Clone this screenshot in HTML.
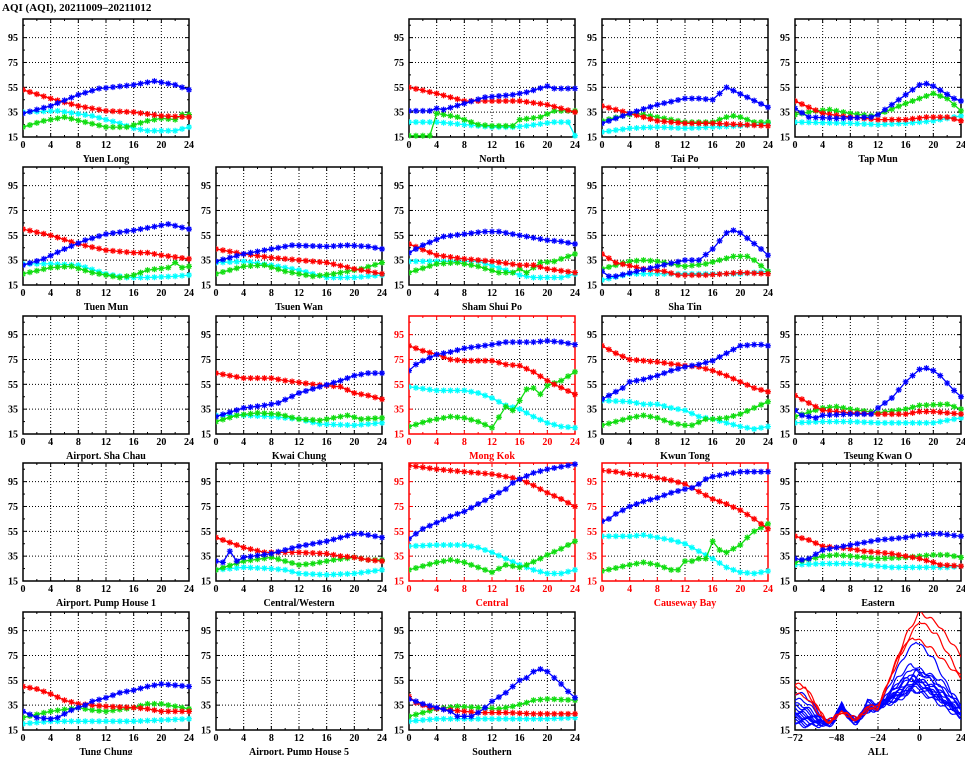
<!DOCTYPE html>
<html><head><meta charset="utf-8">
<style>
html,body{margin:0;padding:0;background:#fff;}
svg text{font-family:"Liberation Serif",serif;font-weight:bold;font-size:10px;}
</style></head>
<body>
<svg id="s" width="965" height="755" xmlns="http://www.w3.org/2000/svg">
<text x="2" y="11" style="font-size:11px">AQI (AQI), 20211009–20211012</text>
</svg>
<script>
const S=document.getElementById('s');
const NS='http://www.w3.org/2000/svg';
let out='';
const colX=[23,216,409,602,795], rowY=[19,167,316,463,612], W=166, H=118;
const C={b:'#0000ff',r:'#ff0000',g:'#11dd11',c:'#00ffff'};
function interp(k,x){for(let i=0;i<k.length-1;i++){const a=k[i],b=k[i+1];if(x>=a[0]&&x<=b[0])return a[1]+(b[1]-a[1])*(x-a[0])/(b[0]-a[0]);}return k[k.length-1][1];}
function parse(s){return s.split(',').map(p=>p.split(':').map(Number));}
function frame(x0,y0,red,xmin,xmax,xmaj,xmin2,title){
  const col=red?'#ff0000':'#000';
  const X=v=>x0+(v-xmin)/(xmax-xmin)*W, Y=v=>y0+(110-v)/95*H;
  // grid
  for(let v=xmin+xmaj;v<xmax;v+=xmaj) out+=`<line x1="${X(v)}" y1="${y0}" x2="${X(v)}" y2="${y0+H}" stroke="#000" stroke-width="1" stroke-dasharray="1,2"/>`;
  for(let v=35;v<=95;v+=20) out+=`<line x1="${x0}" y1="${Y(v)}" x2="${x0+W}" y2="${Y(v)}" stroke="#000" stroke-width="1" stroke-dasharray="1,2"/>`;
  // ticks
  for(let v=xmin;v<=xmax;v+=xmin2){const L=((v-xmin)%xmaj===0)?4:2;out+=`<line x1="${X(v)}" y1="${y0+H}" x2="${X(v)}" y2="${y0+H-L}" stroke="${col}"/><line x1="${X(v)}" y1="${y0}" x2="${X(v)}" y2="${y0+L}" stroke="${col}"/>`;}
  for(let v=15;v<=105;v+=10){const L=((v-15)%20===0)?4:2;out+=`<line x1="${x0}" y1="${Y(v)}" x2="${x0+L}" y2="${Y(v)}" stroke="${col}"/><line x1="${x0+W}" y1="${Y(v)}" x2="${x0+W-L}" y2="${Y(v)}" stroke="${col}"/>`;}
  out+=`<rect x="${x0}" y="${y0}" width="${W}" height="${H}" fill="none" stroke="${col}" stroke-width="1.5"/>`;
  for(let v=xmin;v<=xmax;v+=xmaj) out+=`<text x="${X(v)}" y="${y0+H+11}" text-anchor="middle" fill="${col}">${v<0?'−'+(-v):v}</text>`;
  for(let v=15;v<=95;v+=20) out+=`<text x="${x0-5}" y="${Y(v)+3.5}" text-anchor="end" fill="${col}">${v}</text>`;
  out+=`<text x="${x0+W/2}" y="${y0+H+25}" text-anchor="middle" fill="${col}">${title}</text>`;
  return [X,Y];
}
function panel(r,c,title,red,data){
  const x0=colX[c],y0=rowY[r];
  const [X,Y]=frame(x0,y0,red,0,24,4,2,title);
  if(!data)return;
  out+=`<svg x="${x0}" y="${y0-4}" width="${W+4}" height="${H+8}" overflow="hidden"><g transform="translate(${-x0},${-(y0-4)})">`;
  for(const k of ['c','g','r','b']){
    if(!data[k])continue;
    const kn=parse(data[k]);let pts=[],m='';
    for(let h=0;h<=24;h++){const px=X(h),py=Y(interp(kn,h));pts.push(px.toFixed(1)+','+py.toFixed(1));
      m+=`M${px-3},${py}h6M${px},${py-3}v6M${px-2.2},${py-2.2}l4.4,4.4M${px-2.2},${py+2.2}l4.4,-4.4`;}
    out+=`<polyline points="${pts.join(' ')}" fill="none" stroke="${C[k]}" stroke-width="1.3"/><path d="${m}" stroke="${C[k]}" stroke-width="1.2" fill="none"/>`;
  }
  out+='</g></svg>';
}
panel(0,0,'Yuen Long',0,{b:'0:34,4:40,8:49,11:54,16:57,19:60,22:57,24:53',r:'0:53,4:46,8:40,12:36,16:35,20:32,24:31',c:'0:35,5:36,10:32,14:26,16:22,18:20,22:20,24:23',g:'0:23,3:28,6:31,9:27,12:23,15:23,18:28,20:30,22:29,23:33,24:33'});
panel(0,2,'North',0,{b:'0:36,3:36,4:38,5:37,8:42,11:47,15:49,17:51,20:56,21:54,24:54',r:'0:55,4:50,8:44,12:44,16:44,20:41,24:35',g:'0:16,3:16,4:34,7:31,10:25,12:24,15:24,16:29,19:31,21:36,24:36',c:'0:27,4:27,8:25,12:23,15:23,17:24,21:27,23:27,24:16'});
panel(0,3,'Tai Po',0,{b:'0:26,4:34,8:41,12:46,14:46,16:45,18:55,21:47,24:39',r:'0:40,4:34,8:28,12:26,16:26,20:25,24:24',g:'0:28,3:32,5:34,8:31,12:27,16:27,18:31,19:32,20:31,22:27,24:27',c:'0:19,4:22,8:23,12:22,16:23,20:24,24:26'});
panel(0,4,'Tap Mun',0,{b:'0:38,2:31,6:30,11:31,12:33,16:49,18:57,19:58,20:56,23:46,24:44',r:'0:44,4:34,8:31,12:29,16:29,19:31,22:31,24:28',g:'0:33,3:36,5:37,8:34,11:32,12:33,16:42,20:50,22:46,24:36',c:'0:27,8:26,12:25,16:26,20:28,24:32'});
panel(1,0,'Tuen Mun',0,{b:'0:31,3:36,6:44,9:51,12:56,16:59,19:62,21:64,24:60',r:'0:60,4:55,8:48,12:43,16:41,18:41,20:39,24:36',c:'0:32,4:32,8:31,12:24,15:21,18:21,22:22,24:23',g:'0:24,4:29,7:30,10:25,14:21,16:23,18:27,21:29,22:33,23:29,24:30'});
panel(1,1,'Tsuen Wan',0,{b:'0:34,4:40,8:44,11:47,16:46,19:47,22:46,24:44',r:'0:44,4:40,8:37,12:35,16:33,20:28,24:24',c:'0:33,4:34,8:31,12:27,14:24,16:21,20:21,24:23',g:'0:24,4:30,7:31,10:26,14:22,17:24,21:28,24:33'});
panel(1,2,'Sham Shui Po',0,{b:'0:41,2:47,5:54,8:56,11:58,13:58,16:55,20:51,22:50,24:48',r:'0:48,4:39,8:36,12:34,16:31,18:31,20:28,24:25',c:'0:34,6:34,10:34,14:27,16:23,18:21,22:21,24:24',g:'0:25,4:32,7:33,10:30,13:25,15:25,16:28,17:25,19:33,21:34,24:40'});
panel(1,3,'Sha Tin',0,{b:'0:26,1:22,2:22,5:26,8:30,12:35,14:35,16:44,18:57,19:59,20:57,23:44,24:39',r:'0:40,2:33,6:28,9:26,11:23,15:23,20:25,24:24',g:'0:28,4:34,6:35,8:34,12:30,15:32,17:35,19:38,21:38,22:35,24:26',c:'0:19,4:24,8:24,12:24,16:24,20:24,24:26'});
panel(2,0,'Airport. Sha Chau',0,null);
panel(2,1,'Kwai Chung',0,{b:'0:29,4:36,7:38,9:40,12:48,15:53,18:58,20:62,22:64,24:64',r:'0:64,4:60,8:60,10:58,14:55,16:54,18:53,20:48,22:46,24:43',g:'0:25,3:30,6:32,9:31,12:27,15:26,18:29,19:30,21:27,24:28',c:'0:30,4:30,8:29,12:27,15:23,20:22,24:24'});
panel(2,2,'Mong Kok',1,{b:'0:66,1:71,2:74,4:79,6:81,8:84,12:87,14:89,18:89,20:90,22:89,24:87',r:'0:86,2:82,4:79,6:75,8:74,12:74,14:71,16:70,18:65,20:58,21:55,24:47',c:'0:53,4:50,8:50,10:48,12:44,14:38,16:35,18:29,20:24,22:21,24:20',g:'0:21,3:26,6:29,8:28,10:25,12:20,14:37,15:34,16:42,17:51,18:52,19:47,20:54,22:58,24:65'});
panel(2,3,'Kwun Tong',0,{b:'0:43,1:46,3:52,4:57,6:59,8:62,10:66,12:69,14:71,16:74,18:80,19:83,20:86,22:87,23:87,24:86',r:'0:86,2:80,4:75,8:73,12:70,14:69,16:66,18:62,20:57,22:52,24:49',c:'0:42,4:41,6:39,8:39,10:36,12:34,14:29,16:27,18:24,20:21,22:19,24:21',g:'0:22,4:28,6:30,8:28,10:24,12:22,13:22,15:27,16:27,18:28,20:31,22:36,24:41'});
panel(2,4,'Tseung Kwan O',0,{b:'0:34,1:30,3:28,4:30,8:31,11:31,12:36,14:44,16:57,18:67,19:68,20:66,21:62,22:56,23:50,24:45',r:'0:46,2:40,4:34,8:32,12:31,16:31,18:33,20:33,24:31',g:'0:29,4:36,6:37,8:35,12:32,16:35,18:38,22:39,24:35',c:'0:24,4:25,8:25,12:24,16:24,20:24,24:28'});
panel(3,0,'Airport. Pump House 1',0,null);
panel(3,1,'Central/Western',0,{b:'0:31,1:30,2:39,3:31,4:34,8:37,10:40,12:43,16:47,20:53,21:53,24:50',r:'0:50,2:46,4:42,7:38,12:38,16:37,18:35,20:34,22:32,24:31',g:'0:24,4:31,8:34,10:31,12:28,14:29,17:32,20:34,22:32,24:32',c:'0:24,4:26,8:25,10:24,12:21,16:20,20:21,24:24'});
panel(3,2,'Central',1,{b:'0:49,1:53,2:57,4:62,6:67,8:71,10:77,12:83,14:89,15:94,16:97,18:102,20:105,22:107,24:109',r:'0:108,4:105,8:103,12:101,14:99,16:97,18:92,20:86,22:81,24:75',c:'0:43,4:44,8:44,10:42,12:38,14:33,16:28,18:24,20:21,22:21,24:24',g:'0:24,4:30,6:32,8:30,10:26,12:22,13:25,14:28,16:26,17:28,19:33,20:36,22:41,24:47'});
panel(3,3,'Causeway Bay',1,{b:'0:63,1:65,2:69,3:72,4:75,6:79,8:82,10:86,12:89,13:90,14:93,15:97,16:99,18:101,20:103,22:103,24:103',r:'0:104,2:103,4:101,6:100,8:98,10:96,12:93,14:87,16:81,18:77,20:72,22:65,23:61,24:57',c:'0:51,4:51,6:52,8:50,10:48,12:45,14:39,16:33,18:26,20:22,22:21,24:23',g:'0:23,4:28,6:30,8:28,10:24,11:24,12:31,13:31,14:33,15:33,16:47,17:40,18:38,19:41,20:44,21:50,22:55,23:58,24:61'});
panel(3,4,'Eastern',0,{b:'0:33,1:32,2:33,4:40,6:42,8:44,10:46,12:48,16:50,18:52,20:53,21:53,24:51',r:'0:51,2:48,4:43,6:42,8:41,10:39,12:38,14:37,16:35,18:33,20:30,21:28,24:27',g:'0:30,4:35,6:36,8:35,12:33,16:34,20:36,22:36,24:34',c:'0:28,4:29,8:29,12:27,14:26,18:26,22:26,24:27'});
panel(4,0,'Tung Chung',0,{b:'0:30,2:25,4:24,5:25,7:31,9:35,10:38,12:41,14:45,16:47,18:50,20:52,22:51,24:50',r:'0:50,2:48,4:44,6:39,8:36,10:35,12:34,16:33,18:32,20:30,22:30,24:30',g:'0:25,4:30,8:33,10:31,12:30,16:33,18:36,20:36,22:34,24:32',c:'0:20,4:22,8:22,12:22,16:22,20:23,24:24'});
panel(4,1,'Airport. Pump House 5',0,null);
panel(4,2,'Southern',0,{b:'0:40,2:36,4:33,6:30,7:26,9:26,10:29,11:33,12:38,14:45,16:55,17:57,18:62,19:64,20:62,21:57,22:52,23:46,24:41',r:'0:42,1:37,3:33,6:31,10:29,14:29,18:28,20:28,24:28',g:'0:26,2:29,4:32,7:34,10:33,13:32,15:34,17:37,18:39,20:40,24:39',c:'0:22,4:24,8:24,12:24,16:24,20:24,24:25'});
// ALL panel
(function(){
  const x0=colX[4],y0=rowY[4];
  const [X,Y]=frame(x0,y0,0,-72,24,24,12,'ALL');
  out+=`<svg x="${x0}" y="${y0}" width="${W}" height="${H}" overflow="hidden"><g transform="translate(${-x0},${-y0})">`;
  function curve(start,dip,bump,peak,pt,end,col,seed){
    const k=[[-72,start],[-66,start-2],[-54,dip],[-50,dip+2],[-45,bump],[-40,dip+4],[-36,dip+2],[-30,dip+8+seed*2],[-24,dip+10+seed],[pt-8,peak*0.8+start*0.05],[pt,peak],[pt+10,peak*0.75+end*0.25],[24,end]];
    let p=[];for(let h=-72;h<=24;h+=1){let v=interp(k,h)+Math.sin(h*0.9+seed*3)*1.5;p.push(X(h).toFixed(1)+','+Y(v).toFixed(1));}
    out+=`<polyline points="${p.join(' ')}" fill="none" stroke="${col}" stroke-width="1.2"/>`;
  }
  const blues=[[45,22,35,87,-2,30],[40,22,33,68,-5,35],[36,21,34,65,-4,28],[34,20,33,62,-2,33],[32,22,36,60,-6,27],[30,20,34,58,-3,30],[29,21,32,56,-4,26],[28,19,35,55,-1,32],[27,20,33,53,-5,25],[25,22,34,52,-3,29],[24,19,32,50,-2,27],[22,20,36,48,-6,31],[21,18,33,47,-4,24],[20,21,34,62,2,36],[26,20,33,57,-7,28]];
  blues.forEach((b,i)=>curve(b[0],b[1],b[2],b[3],b[4],b[5],'#0000ff',i*0.37));
  [[52,22,30,110,0,75],[50,22,29,103,0,58],[44,21,30,90,-4,57]].forEach((b,i)=>curve(b[0],b[1],b[2],b[3],b[4],b[5],'#ff0000',i+0.5));
  out+='</g></svg>';
})();
S.insertAdjacentHTML('beforeend',out);
</script>
</body></html>
